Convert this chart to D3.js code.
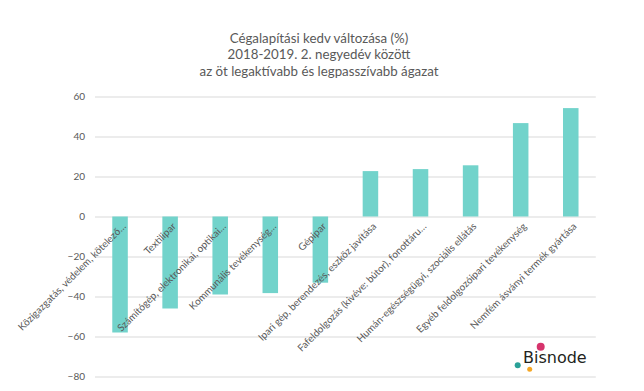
<!DOCTYPE html>
<html>
<head>
<meta charset="utf-8">
<script src="https://cdn.jsdelivr.net/npm/d3@7"></script>
<style>
  html, body { margin: 0; padding: 0; background: #fff; }
  svg { display: block; }
</style>
</head>
<body>
<svg id="chart" width="644" height="391"></svg>
<script>
const titleLines = [
  "Cégalapítási kedv változása (%)",
  "2018-2019. 2. negyedév között",
  "az öt legaktívabb és legpasszívabb ágazat"
];
const categories = [
  "Közigazgatás, védelem, kötelező…",
  "Textilipar",
  "Számítógép, elektronikai, optikai…",
  "Kommunális tevékenység…",
  "Gépipar",
  "Ipari gép, berendezés, eszköz javítása",
  "Fafeldolgozás (kivéve: bútor), fonottáru…",
  "Humán-egészségügyi, szociális ellátás",
  "Egyéb feldolgozóipari tevékenység",
  "Nemfém ásványi termék gyártása"
];
const values = [-58, -46, -39, -38.3, -33.1, 22.7, 23.7, 25.6, 46.7, 54.2];
const yTicks = [-80, -60, -40, -20, 0, 20, 40, 60];

const svg = d3.select("#chart");
const font = "Lato, 'Open Sans', sans-serif";
const textColor = "#595959";

const x = d3.scaleBand().domain(categories).range([95, 595.8]).paddingInner(0.69).paddingOuter(0.345);
const y = d3.scaleLinear().domain([-80, 60]).range([376.5, 96.5]);

// title
svg.append("g").selectAll("text").data(titleLines).join("text")
  .attr("x", 319).attr("y", (d, i) => 42.5 + i * 16.7)
  .attr("text-anchor", "middle")
  .attr("font-family", font).attr("font-size", 13.3)
  .attr("fill", textColor)
  .text(d => d);

// gridlines + y labels
const yAxis = d3.axisLeft(y).tickValues(yTicks).tickSize(-(595.8 - 95)).tickPadding(10).tickFormat(d3.format("d"));
const ga = svg.append("g").attr("transform", "translate(95,0)").call(yAxis);
ga.select(".domain").remove();
ga.selectAll(".tick line").attr("stroke", "#d9d9d9").attr("stroke-width", 1);
ga.selectAll(".tick text").attr("font-family", font).attr("font-size", 10).attr("fill", textColor)
  .attr("x", -10);

// bars
svg.append("g").selectAll("rect").data(values).join("rect")
  .attr("x", (d, i) => x(categories[i]))
  .attr("width", x.bandwidth())
  .attr("y", d => y(Math.max(0, d)))
  .attr("height", d => Math.abs(y(d) - y(0)))
  .attr("fill", "#72d3cb");

// category labels
svg.append("g").selectAll("text").data(categories).join("text")
  .attr("transform", d => `translate(${x(d) + x.bandwidth() / 2 + 4},${y(0) + 8}) rotate(-45)`)
  .attr("text-anchor", "end")
  .attr("dy", "0.35em")
  .attr("font-family", font).attr("font-size", 10)
  .attr("fill", textColor)
  .text(d => d);

// Bisnode logo
const logo = svg.append("g");
logo.append("text").attr("x", 523).attr("y", 363.3)
  .attr("font-family", "'DejaVu Sans', sans-serif").attr("font-size", 16)
  .attr("fill", "#231f20").text("Bisnode");
logo.append("circle").attr("cx", 540.7).attr("cy", 346.7).attr("r", 4).attr("fill", "#d6336c");
logo.append("circle").attr("cx", 517.7).attr("cy", 365.3).attr("r", 3).attr("fill", "#2aa198");
logo.append("circle").attr("cx", 529.7).attr("cy", 369.3).attr("r", 2.5).attr("fill", "#f5a623");
</script>
</body>
</html>
